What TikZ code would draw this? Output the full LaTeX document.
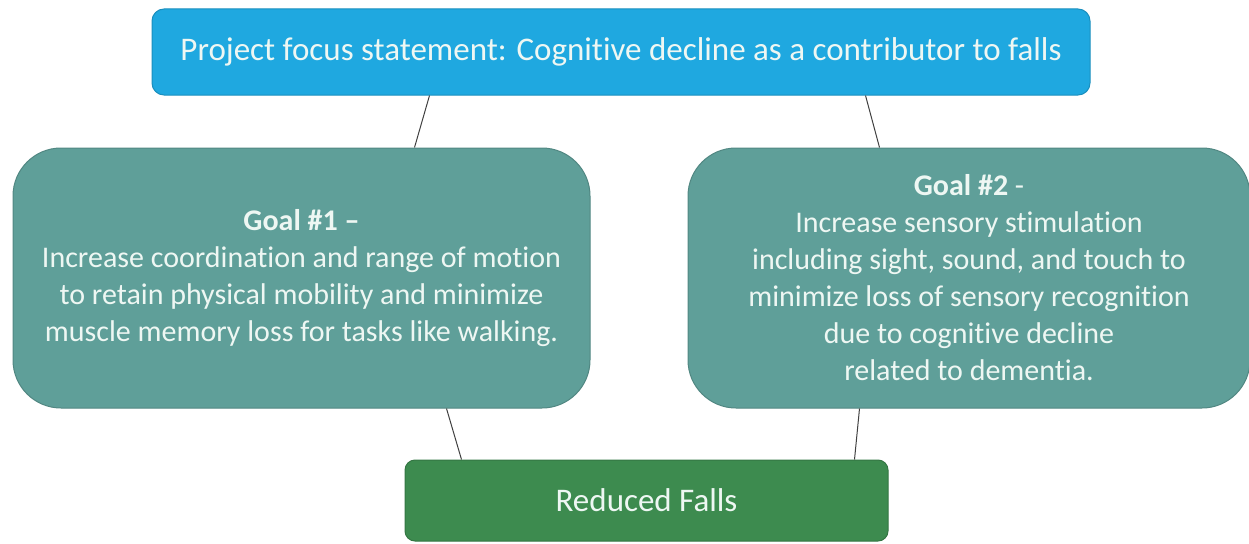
\documentclass[tikz,border=0pt]{standalone}
\usepackage{fontspec}
\setmainfont{Carlito}[Ligatures=NoCommon]
\usetikzlibrary{calc}

\definecolor{focusblue}{HTML}{1FA8E0}
\definecolor{goalteal}{HTML}{5F9F99}
\definecolor{fallgreen}{HTML}{3D8B4F}
\definecolor{boxtext}{HTML}{EEF7F3}

\tikzset{
	box/.style = {draw=#1!85!black, fill=#1, line width=1pt, text=boxtext, align=center, inner sep=0pt},
	goal/.style = {box=goalteal, rounded corners=48pt, minimum height=260pt, font=\fontsize{30}{37}\selectfont},
	link/.style = {draw=black!75, line width=1pt}
}

\begin{document}
\begin{tikzpicture}[x=1pt, y=-1pt]
	\useasboundingbox (0,0) rectangle (1249,543);
	
	%boxes
	\node[box=focusblue, rounded corners=12pt, minimum width=938pt, minimum height=86pt, font=\fontsize{33}{38}\selectfont] (focus) at (621,52) {Project focus statement: Cognitive decline as a contributor to falls};
	\node[goal, minimum width=577pt] (goalA) at (301.5,278) {\textbf{Goal \#1 –}\\Increase coordination and range of motion\\to retain physical mobility and minimize\\muscle memory loss for tasks like walking.};
	\node[goal, minimum width=562pt] (goalB) at (969,278) {\textbf{Goal \#2} -\\Increase sensory stimulation\\including sight, sound, and touch to\\minimize loss of sensory recognition\\due to cognitive decline\\related to dementia.};
	\node[box=fallgreen, rounded corners=10pt, minimum width=483pt, minimum height=81pt, font=\fontsize{33}{38}\selectfont] (falls) at (646.5,500.5) {Reduced Falls};
	
	%links
	\draw[link] ($(focus.south west)+(278,0)$) -- ($(goalA.north west)+(402,0)$);
	\draw[link] ($(focus.south west)+(714,0)$) -- ($(goalB.north west)+(192,0)$);
	\draw[link] ($(goalA.south west)+(434,0)$) -- ($(falls.north west)+(57,0)$);
	\draw[link] ($(goalB.south west)+(172,0)$) -- ($(falls.north west)+(450,0)$);
\end{tikzpicture}
\end{document}
